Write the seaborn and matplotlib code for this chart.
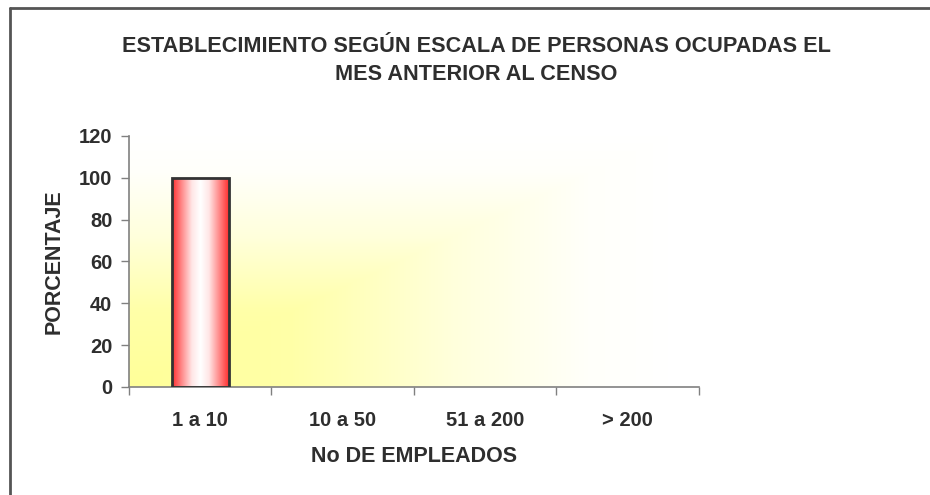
import numpy as np
import pandas as pd
import matplotlib
matplotlib.use("Agg")
import matplotlib.pyplot as plt
from matplotlib.colors import LinearSegmentedColormap
from matplotlib.lines import Line2D
import seaborn as sns

categories = ["1 a 10", "10 a 50", "51 a 200", "> 200"]
values = [100, 0, 0, 0]
y_ticks = [0, 20, 40, 60, 80, 100, 120]

title = "ESTABLECIMIENTO SEGÚN ESCALA DE PERSONAS OCUPADAS EL\nMES ANTERIOR AL CENSO"
x_label = "No DE EMPLEADOS"
y_label = "PORCENTAJE"

sns.set_style("white")
plt.rcParams["font.family"] = ["Liberation Sans", "DejaVu Sans"]
plt.rcParams["font.weight"] = "bold"
text_color = "#2e2e2e"

df = pd.DataFrame({"cat": categories, "val": values})

fig = plt.figure(figsize=(9.3, 4.95), dpi=100)
ax = fig.add_axes([0.1387, 0.2182, 0.6129, 0.5071])

sns.barplot(data=df, x="cat", y="val", ax=ax, width=0.4,
            color="white", edgecolor="#333333", linewidth=2, saturation=1, zorder=3)

n = len(categories)

# yellow glow from the lower-left corner of the plot area
gx, gy = np.meshgrid(np.linspace(0, 1, 400), np.linspace(0, 1, 250))
t = np.clip(np.maximum(gx / 0.95, gy / 1.0), 0, 1)
bg_cmap = LinearSegmentedColormap.from_list(
    "bg", [(0, "#ffff99"), (0.3, "#ffffa8"), (0.6, "#ffffdc"), (0.85, "#fffffa"), (1, "#ffffff")])
ax.imshow(t, cmap=bg_cmap, origin="lower", aspect="auto",
          extent=[-0.5, n - 0.5, 0, 120], zorder=0, vmin=0, vmax=1)

# red-white-red shading inside the bars
bar_cmap = LinearSegmentedColormap.from_list(
    "bar", [(0, "#ff3030"), (0.15, "#ff8080"), (0.35, "#ffe6e6"), (0.5, "#ffffff"),
            (0.65, "#ffe6e6"), (0.85, "#ff8080"), (1, "#ff3030")])
for p in ax.patches:
    h = p.get_height()
    if h <= 0:
        p.set_visible(False)
        continue
    x0 = p.get_x()
    w = p.get_width()
    im = ax.imshow(np.linspace(0, 1, 200).reshape(1, -1), cmap=bar_cmap, aspect="auto",
                   extent=[x0, x0 + w, 0, h], zorder=2)
    im.set_clip_path(p)
    p.set_facecolor("none")

ax.set_xlim(-0.5, n - 0.5)
ax.set_ylim(0, 120)

for s in ["top", "right"]:
    ax.spines[s].set_visible(False)
for s in ["left", "bottom"]:
    ax.spines[s].set_color("#808080")
    ax.spines[s].set_linewidth(1.2)

ax.set_yticks(y_ticks)
ax.set_yticklabels([str(v) for v in y_ticks], fontsize=14.5, fontweight="bold", color=text_color)
ax.tick_params(axis="y", direction="out", length=6, width=1, color="#808080", left=True, pad=6)

ax.set_xticks(np.arange(-0.5, n, 1.0))
ax.set_xticklabels([])
ax.set_xticks(np.arange(n), minor=True)
ax.set_xticklabels(categories, minor=True, fontsize=14.5, fontweight="bold", color=text_color)
ax.tick_params(axis="x", which="major", direction="out", length=6, width=1, color="#808080", bottom=True)
ax.tick_params(axis="x", which="minor", length=0, pad=17)

ax.set_xlabel(x_label, fontsize=15.5, fontweight="bold", color=text_color, labelpad=12)
ax.set_ylabel(y_label, fontsize=15.5, fontweight="bold", color=text_color, labelpad=10)

fig.text(0.512, 0.878, title, ha="center", va="center", fontsize=15.6,
         fontweight="bold", color=text_color, linespacing=1.4)

# chart frame on the left and top edges
fig.add_artist(Line2D([0.0105, 0.0105], [0, 0.983], color="#555555", lw=2))
fig.add_artist(Line2D([0.0105, 1.0], [0.983, 0.983], color="#555555", lw=2))

fig.savefig("out.png", dpi=100)
